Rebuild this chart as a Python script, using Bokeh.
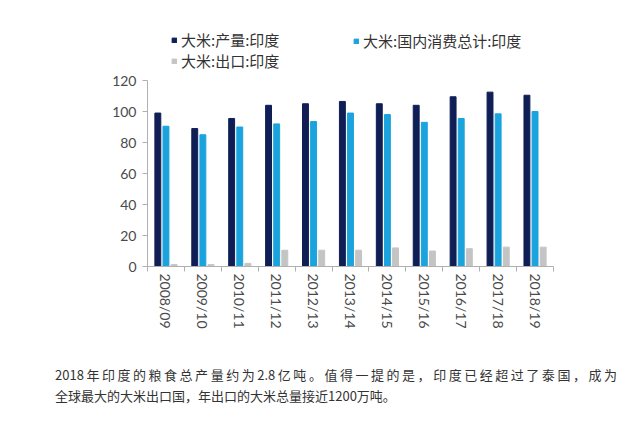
from bokeh.plotting import figure
from bokeh.models import (ColumnDataSource, Range1d, LinearAxis,
                          FixedTicker, Legend, LegendItem, Div)
from bokeh.transform import dodge
from bokeh.layouts import column
from bokeh.embed import file_html
from bokeh.resources import INLINE

years = ["2008/09", "2009/10", "2010/11", "2011/12", "2012/13", "2013/14",
         "2014/15", "2015/16", "2016/17", "2017/18", "2018/19"]
production = [99, 89, 95.5, 104, 105, 106.5, 105, 104, 109.5, 112.5, 110.5]
consumption = [90.5, 85, 90, 92, 93.5, 99, 98, 93, 95.5, 98.5, 100]
exports = [1.2, 1.2, 2.0, 10.5, 10.5, 10.5, 12.0, 10.0, 11.5, 12.5, 12.5]
y_ticks = [0, 20, 40, 60, 80, 100, 120]
names = ["大米:产量:印度", "大米:国内消费总计:印度", "大米:出口:印度"]
colors = ["#0f1f55", "#1ba3dd", "#c4c4c4"]
note1 = "2018年印度的粮食总产量约为2.8亿吨。值得一提的是，印度已经超过了泰国，成为"
note2 = "全球最大的大米出口国，年出口的大米总量接近1200万吨。"

n = len(years)
idx = list(range(n))
src = ColumnDataSource(dict(x=idx, production=production,
                            consumption=consumption, exports=exports))

# frame spans page y 25..266; value 120 sits at page y 80
y_top = 120 * (266 - 25) / (266 - 80)

p = figure(width=632, height=358, x_range=Range1d(-0.5, n - 0.5), y_range=Range1d(0, y_top),
           output_backend="svg", toolbar_location=None, x_axis_location=None,
           min_border_left=147, min_border_right=79, min_border_top=25, min_border_bottom=92)
p.outline_line_color = None
p.grid.grid_line_color = None
p.background_fill_color = "white"
p.border_fill_color = "white"

bw = 0.16
r1 = p.vbar(x=dodge("x", -0.22), top="production", width=bw, source=src, color=colors[0])
r2 = p.vbar(x=dodge("x", 0.0), top="consumption", width=bw, source=src, color=colors[1])
r3 = p.vbar(x=dodge("x", 0.22), top="exports", width=bw, source=src, color=colors[2])

axis_col = "#b0b0b0"
lab_col = "#4a4a4a"

yax = p.yaxis[0]
yax.ticker = FixedTicker(ticks=y_ticks)
yax.bounds = (0, 120)
yax.axis_line_color = axis_col
yax.major_tick_line_color = axis_col
yax.major_tick_out = 5
yax.major_tick_in = 0
yax.minor_tick_line_color = None
yax.major_label_text_font = "Lato"
yax.major_label_text_font_size = "14px"
yax.major_label_text_color = lab_col
yax.major_label_standoff = 6

bticks = [i - 0.5 for i in range(n + 1)]
bax = LinearAxis(ticker=FixedTicker(ticks=bticks),
                 major_label_overrides={t: "" for t in bticks})
bax.axis_line_color = axis_col
bax.major_tick_line_color = axis_col
bax.major_tick_out = 5
bax.major_tick_in = 0
bax.minor_tick_line_color = None
bax.major_label_standoff = 0
p.add_layout(bax, "below")

cax = LinearAxis(ticker=FixedTicker(ticks=idx),
                 major_label_overrides={i: years[i] for i in idx})
cax.axis_line_color = None
cax.major_tick_line_color = None
cax.minor_tick_line_color = None
cax.major_label_orientation = "vertical"
cax.major_label_text_font = "Lato"
cax.major_label_text_font_size = "14px"
cax.major_label_text_color = lab_col
cax.major_label_standoff = -4
p.add_layout(cax, "below")

def mk_legend(items, loc):
    return Legend(items=items, location=loc, orientation="vertical",
                  padding=0, margin=0, spacing=0, border_line_color=None,
                  background_fill_alpha=0, glyph_width=6, glyph_height=6,
                  label_height=20, label_standoff=4,
                  label_text_font="Noto Sans CJK SC", label_text_font_size="15px",
                  label_text_color="#333333")

leg1 = mk_legend([LegendItem(label=names[0], renderers=[r1]),
                  LegendItem(label=names[2], renderers=[r3])], (24, 195))
leg2 = mk_legend([LegendItem(label=names[1], renderers=[r2])], (206, 215))
p.add_layout(leg1, "center")
p.add_layout(leg2, "center")

div = Div(text=(
    '<div style="font-family:\'Noto Sans CJK SC\';font-size:13px;color:#333;line-height:21px;'
    'padding-top:1px;margin-left:50px;">'
    '<div style="width:562px;text-align:justify;text-align-last:justify;white-space:nowrap;">'
    + note1 + '</div><div>' + note2 + '</div></div>'), width=632, height=60)

layout = column(p, div)
open("out.html", "w").write(file_html(layout, INLINE))
